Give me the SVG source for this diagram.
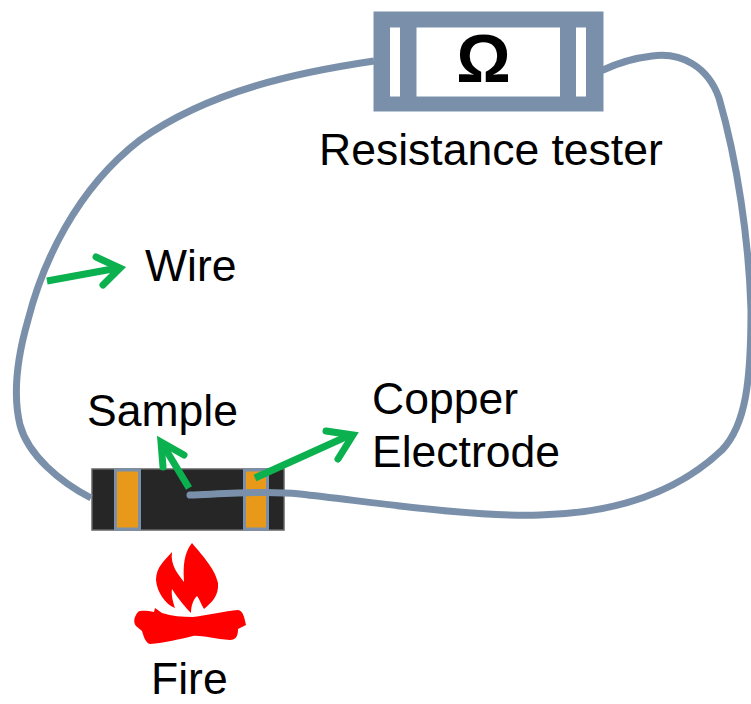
<svg xmlns="http://www.w3.org/2000/svg" width="751" height="704" viewBox="0 0 751 704">
<style>
text{font-family:"Liberation Sans",Arial,sans-serif;fill:#000;font-size:44.500px}
.wire{fill:none;stroke:#7a90aa;stroke-width:7;stroke-linecap:butt}
.arrow{fill:none;stroke:#0bb04f;stroke-width:7;stroke-linecap:butt;stroke-linejoin:miter}
.head{stroke-linecap:round}
.band{fill:#e8991a;stroke:#7a90aa;stroke-width:3}
</style>
<rect width="751" height="704" fill="#fff"/>
<g id="sample">
<rect x="92" y="469" width="192" height="61" fill="#262626" stroke="#666" stroke-width="1.500"/>
<rect x="115.500" y="470" width="24" height="59" class="band"/>
<rect x="244.500" y="470" width="23" height="59" class="band"/>
</g>
<g id="connectors">
<path class="wire" d="M374 61C300 72 210 90 140 140C75 190 42 265 28 320C15 365 14 400 20 425C28 455 60 482 91 498"/>
<path class="wire" style="stroke-linecap:round" d="M190 495C240 493 270 491 300 494C380 503 470 517 540 515C620 513 680 490 722 450C746 425 751 380 751 310C749 240 737 160 719 98C708 67 682 52 652 56C635 58 620 62 603 70"/>
<g id="arrow-wire"><path class="arrow" d="M47 281L118 268"/><path class="arrow head" d="M96 257L120 268L103 285"/></g>
<g id="arrow-sample"><path class="arrow" d="M189 488L163 445"/><path class="arrow head" d="M163 467L161 442L184 455"/></g>
<g id="arrow-electrode"><path class="arrow" d="M255 478L350 435"/><path class="arrow head" d="M326 431L353 435L338 459"/></g>
</g>
<g id="tester">
<rect x="373.500" y="11.500" width="230" height="100" fill="#7a90aa"/>
<rect x="390" y="27.500" width="10" height="69" fill="#fff"/>
<rect x="416.500" y="27.500" width="143.500" height="69" fill="#fff"/>
<rect x="576" y="27.500" width="10" height="69" fill="#fff"/>
<text x="483.500" y="82" text-anchor="middle" font-weight="700" style="font-size:68px">Ω</text>
<text x="319" y="165">Resistance tester</text>
</g>
<g id="fire">
<path fill="#f00" d="M192 543C200 553 215 568 218 583C219 596 212 602 204 609C201 604 199 598 197 596C193 600 191 606 191 613C186 608 179 600 172 589C171 595 173 602 175 608C165 604 157 592 156 580C156 567 165 560 172 552C170 565 178 574 184 582C183 565 184 553 192 543Z"/>
<path fill="#f00" d="M155 608L162 613C172 616 182 617 193 617C208 615 225 611 238 610C243 611 244 616 246 625L238 629C238 636 236 640 230 640C215 639 200 635 193 636C180 639 165 643 150 644C146 643 144 638 142 631L136 626C133 622 134 617 138 612C141 610 148 611 154 612Z"/>
</g>
<g id="labels">
<text x="145" y="281">Wire</text>
<text x="87" y="426">Sample</text>
<text x="372" y="414">Copper</text>
<text x="372" y="467">Electrode</text>
<text x="151" y="694">Fire</text>
</g>
</svg>
